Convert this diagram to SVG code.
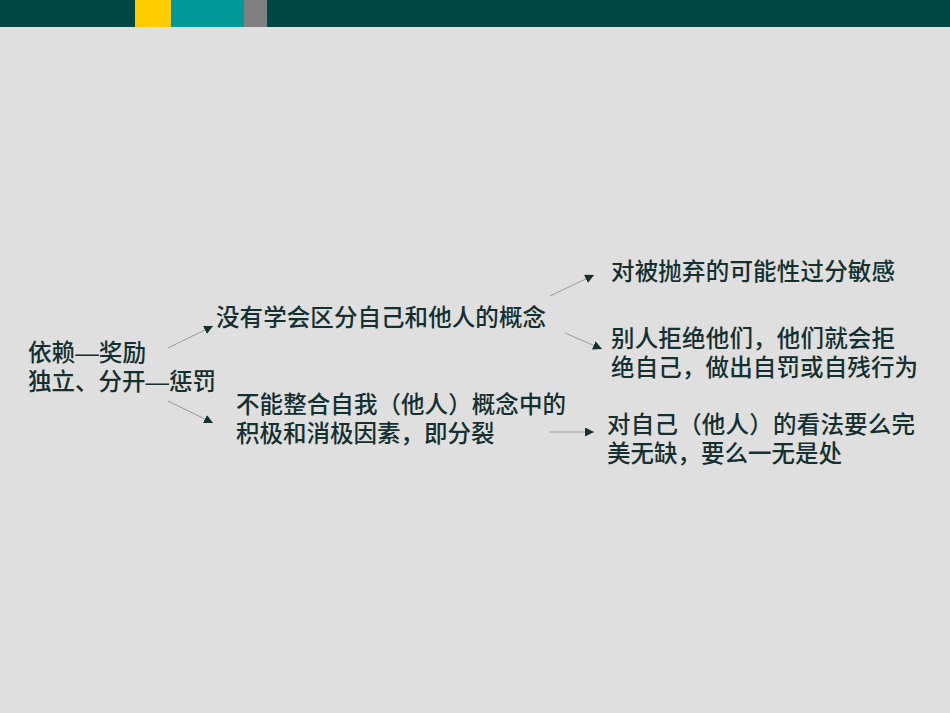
<svg xmlns="http://www.w3.org/2000/svg" width="950" height="713" viewBox="0 0 950 713">
<style>
.t{font-family:"Noto Sans CJK SC","Liberation Sans",sans-serif;font-size:23.5px;font-weight:500;fill:#143030;}
.d{font-family:"Liberation Sans",sans-serif;}
.c{stroke:#9a9a9a;stroke-width:1;fill:none;marker-end:url(#ah);}
</style>
<defs>
<marker id="ah" markerUnits="userSpaceOnUse" markerWidth="10" markerHeight="9" refX="9" refY="4.5" orient="auto">
<path d="M0,0 L9,4.5 L0,9 Z" fill="#143030"/>
</marker>
</defs>
<rect x="0" y="0" width="950" height="713" fill="#dfdfdf"/>
<g id="topbar">
<rect x="0" y="0" width="950" height="27" fill="#004848"/>
<rect x="135" y="0" width="36" height="27" fill="#ffcc00"/>
<rect x="171" y="0" width="73" height="27" fill="#009999"/>
<rect x="244" y="0" width="23" height="27" fill="#808080"/>
</g>
<g id="connectors">
<line class="c" x1="168" y1="348" x2="213" y2="326"/>
<line class="c" x1="168" y1="401" x2="213" y2="423"/>
<line class="c" x1="550" y1="296" x2="594" y2="275"/>
<line class="c" x1="565" y1="333" x2="602" y2="349"/>
<line class="c" x1="550" y1="432" x2="594" y2="432"/>
</g>
<g id="root">
<text class="t" x="28" y="361" textLength="118" lengthAdjust="spacingAndGlyphs">依赖<tspan class="d">—</tspan>奖励</text>
<text class="t" x="28" y="390" textLength="188" lengthAdjust="spacingAndGlyphs">独立、分开<tspan class="d">—</tspan>惩罚</text>
</g>
<g id="n1">
<text class="t" x="216" y="326" textLength="330">没有学会区分自己和他人的概念</text>
</g>
<g id="n2">
<text class="t" x="236" y="413" textLength="330">不能整合自我（他人）概念中的</text>
<text class="t" x="236" y="442">积极和消极因素，即分裂</text>
</g>
<g id="n3">
<text class="t" x="611" y="280" textLength="284">对被抛弃的可能性过分敏感</text>
</g>
<g id="n4">
<text class="t" x="611" y="347" textLength="284">别人拒绝他们，他们就会拒</text>
<text class="t" x="611" y="376" textLength="307">绝自己，做出自罚或自残行为</text>
</g>
<g id="n5">
<text class="t" x="607" y="433" textLength="308">对自己（他人）的看法要么完</text>
<text class="t" x="607" y="462">美无缺，要么一无是处</text>
</g>
</svg>
